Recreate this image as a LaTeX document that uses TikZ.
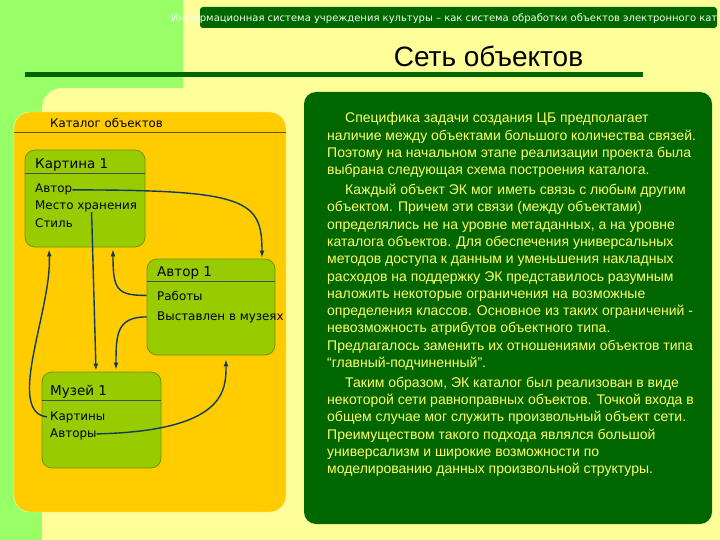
\documentclass[tikz,border=0pt]{standalone}
\usepackage{fontspec}
\setmainfont{Liberation Sans}
\newfontfamily\diagfont{DejaVu Sans}
\newfontfamily\titlefont{Liberation Sans}
\usetikzlibrary{arrows.meta, positioning, calc}
\definecolor{bgyellow}{HTML}{FFFF99}
\definecolor{bggreen}{HTML}{99FF66}
\definecolor{darkgreen}{HTML}{006600}
\definecolor{catorange}{HTML}{FFCC00}
\definecolor{objgreen}{HTML}{99CC00}
\definecolor{objborder}{HTML}{6E9400}
\definecolor{linkblue}{HTML}{0E3C5C}
\definecolor{infotext}{HTML}{FFFF66}

\begin{document}
\begin{tikzpicture}[x=1pt, y=-1pt, >={Latex[length=7pt,width=5pt]},
  obj/.style={draw=objborder, fill=objgreen, rounded corners=10pt, line width=0.8pt, inner sep=0pt},
  objtitle/.style={font=\diagfont\fontsize{13.5}{15}\selectfont, inner sep=0pt, anchor=base west},
  item/.style={font=\diagfont\fontsize{11.9}{13}\selectfont, inner sep=0pt, anchor=base west},
  link/.style={->, draw=linkblue, line width=1.4pt}]
  \useasboundingbox (0,0) rectangle (720,540);

  % Фон
  \fill[bgyellow] (0,0) rectangle (720,540);
  \fill[bggreen] (0,0) rectangle (183,88);
  \fill[bggreen] (0,88) rectangle (42,540);
  \fill[bggreen] (42,88) rectangle (62,108);
  \fill[bgyellow] (62,108) circle (20);

  % Заголовок
  \node[fill=darkgreen, rounded corners=3pt, minimum width=517, minimum height=21, inner sep=0pt] (hdrbar) at (458.5,17.5) {};
  \begin{scope}
    \clip (0,0) rectangle (717,30);
    \node[font=\diagfont\fontsize{10}{12}\selectfont, text=white!94!green, inner sep=0pt, anchor=base west] (hdr) at (171,21.5)
      {Информационная система учреждения культуры – как система обработки объектов электронного кат};
  \end{scope}
  \node[font=\titlefont\fontsize{28}{30}\selectfont, inner sep=0pt, anchor=base] (title) at (488.5,67) {Сеть объектов};
  \draw[darkgreen, line width=5pt] (25,74.5) -- (643,74.5);

  % Каталог объектов
  \node[fill=catorange, draw=bgyellow!60!white, rounded corners=16pt, minimum width=272, minimum height=400, inner sep=0pt] (catalog) at (150,312) {};
  \draw[black!60!catorange, line width=1pt] (catalog.west |- 0,133) -- (catalog.east |- 0,133);
  \node[item, font=\diagfont\fontsize{11.8}{13}\selectfont] (cattitle) at (50,127.5) {Каталог объектов};

  % Объекты
  \node[obj, minimum width=120, minimum height=97] (kartina) at (85,198.5) {};
  \node[obj, minimum width=128, minimum height=96] (avtor) at (211,307) {};
  \node[obj, minimum width=119, minimum height=96] (muzei) at (101.5,420) {};
  \draw[black!70, line width=0.8pt] (kartina.west |- 0,173) -- (kartina.east |- 0,173);
  \draw[black!70, line width=0.8pt] (avtor.west |- 0,281) -- (avtor.east |- 0,281);
  \draw[black!70, line width=0.8pt] (muzei.west |- 0,400) -- (muzei.east |- 0,400);

  \node[objtitle] (kartinaT) at (35,169) {Картина 1};
  \node[item] (kAvtor) at (35,193) {Автор};
  \node[item] (kMesto) at (35,209.5) {Место хранения};
  \node[item] (kStil) at (35,228) {Стиль};

  \node[objtitle] (avtorT) at (157,276) {Автор 1};
  \node[item] (aRaboty) at (157,300) {Работы};
  \node[item] (aVystavlen) at (157,320) {Выставлен в музеях};

  \node[objtitle] (muzeiT) at (50,395) {Музей 1};
  \node[item] (mKartiny) at (50,420) {Картины};
  \node[item] (mAvtory) at (50,437) {Авторы};

  % Связи
  \draw[link] (kAvtor.east) .. controls +(174,0) and +(0,-58) .. ([xshift=51pt,yshift=1pt]avtor.north);
  \draw[link] ([xshift=5.5pt]kMesto.south) -- ([xshift=-5.5pt,yshift=1pt]muzei.north);
  \draw[link] (avtor.west |- aRaboty.west) .. controls +(-30,0) and +(0,40) .. ([xshift=28pt,yshift=-2pt]kartina.south);
  \draw[link] (avtor.west |- aVystavlen.west) .. controls +(-30,0) and +(0,-35) .. ([xshift=14.5pt,yshift=2pt]muzei.north);
  \draw[link] ([xshift=-3pt]mKartiny.west) .. controls +(-42,-5) and +(3,60) .. ([xshift=-36pt,yshift=-2pt]kartina.south);
  \draw[link] (mAvtory.east) .. controls +(130,-3) and +(0,30) .. ([xshift=15pt,yshift=-4pt]avtor.south);

  % Пояснительный текст
  \node[fill=darkgreen, rounded corners=12pt, minimum width=408, minimum height=432, inner sep=0pt] (infobox) at (508,308) {};
  \node[font=\fontsize{14}{17.3}\selectfont, text=infotext, align=left, inner sep=0pt, anchor=north west] (info) at (327,112.5)
    {\hspace*{18pt}Специфика задачи создания ЦБ предполагает\\
     наличие между объектами большого количества связей.\\
     Поэтому на начальном этапе реализации проекта была\\
     выбрана следующая схема построения каталога.\\[2.5pt]
     \hspace*{18pt}Каждый объект ЭК мог иметь связь с любым другим\\
     объектом. Причем эти связи (между объектами)\\
     определялись не на уровне метаданных, а на уровне\\
     каталога объектов. Для обеспечения универсальных\\
     методов доступа к данным и уменьшения накладных\\
     расходов на поддержку ЭК представилось разумным\\
     наложить некоторые ограничения на возможные\\
     определения классов. Основное из таких ограничений -\\
     невозможность атрибутов объектного типа.\\
     Предлагалось заменить их отношениями объектов типа\\
     “главный-подчиненный”.\\[2.5pt]
     \hspace*{18pt}Таким образом, ЭК каталог был реализован в виде\\
     некоторой сети равноправных объектов. Точкой входа в\\
     общем случае мог служить произвольный объект сети.\\
     Преимуществом такого подхода являлся большой\\
     универсализм и широкие возможности по\\
     моделированию данных произвольной структуры.};
\end{tikzpicture}
\end{document}
